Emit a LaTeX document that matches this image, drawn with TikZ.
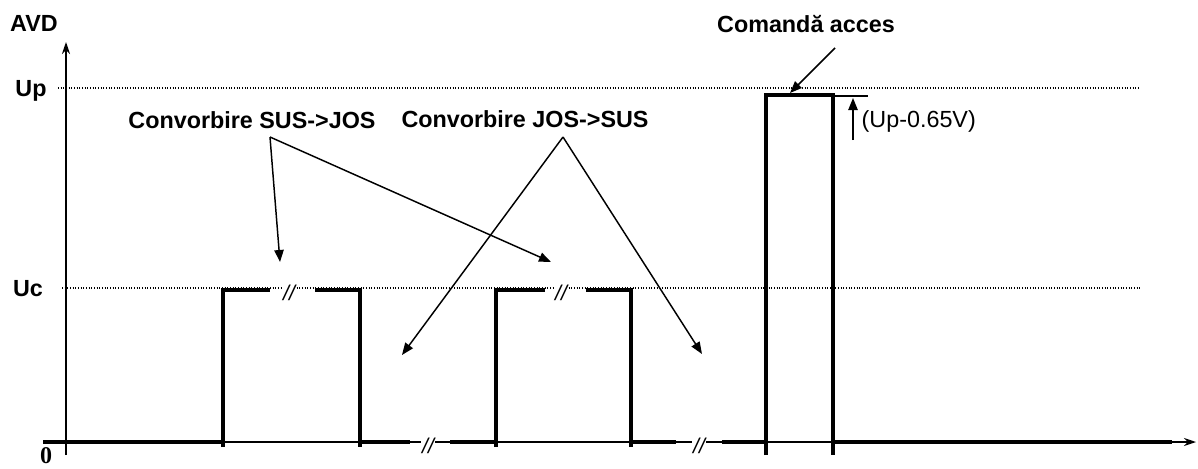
\documentclass[tikz,border=0pt]{standalone}
\usepackage{fontspec}
\setmainfont{Liberation Sans}
\newfontfamily\zerofont{Liberation Serif}
\usetikzlibrary{arrows.meta}
\begin{document}
\begin{tikzpicture}[x=0.75pt, y=-0.75pt,
  signal/.style={line width=3pt},
  axis/.style={line width=1.1pt, -{Stealth[length=9pt,width=6pt]}},
  level/.style={line width=0.8pt, dash pattern=on 0.8pt off 1.2pt},
  pointer/.style={line width=1.1pt, -{Triangle[length=9pt,width=7pt]}},
  title/.style={font=\fontsize{17.5}{20}\selectfont\bfseries},
  brk/.style={fill=white, inner sep=1pt, font=\fontsize{16}{18}\selectfont\itshape}]

  \useasboundingbox (0,0) rectangle (1198,468);

  % levels Up and Uc -- dotted guide lines
  \draw[level] (58,88) -- (1140,88);
  \draw[level] (62,288) -- (1140,288);

  % axes
  \coordinate (o) at (66,455);
  \coordinate (ytop) at (66,42);
  \coordinate (xleft) at (43,442);
  \coordinate (xright) at (1196,442);
  \draw[axis] (o) -- (ytop);
  \draw[axis] (xleft) -- (xright);

  % axis labels
  \node[title] (avd) at (34,23) {AVD};
  \node[title] (up) at (31,91) {Up};
  \node[title] (uc) at (28,289) {Uc};
  \node[font=\fontsize{18}{20}\selectfont\zerofont\bfseries, inner sep=0pt, anchor=north] (zero) at (46,447) {0};

  % breaks on the time axis and on the pulse tops
  \node[brk] (b1) at (289,293) {//};
  \node[brk] (b2) at (561,293) {//};
  \node[brk] (b3) at (428,446) {//};
  \node[brk] (b4) at (699,446) {//};

  % signal -- SUS->JOS call
  \draw[signal] (43,442) -- (223,442);
  \draw[signal] (223,447) -- (223,290) -- (270,290);
  \draw[signal] (315,290) -- (360,290) -- (360,447);
  \draw[signal] (360,442) -- (410,442);

  % signal -- JOS->SUS call
  \draw[signal] (450,442) -- (496,442);
  \draw[signal] (496,447) -- (496,290) -- (545,290);
  \draw[signal] (586,290) -- (631,290) -- (631,447);
  \draw[signal] (631,442) -- (676,442);

  % signal -- access command pulse
  \draw[signal] (722,442) -- (766,442);
  \draw[signal] (766,455) -- (766,95) -- (833,95) -- (833,455);
  \draw[signal] (833,442) -- (1172,442);

  % drop below Up
  \coordinate (dtop) at (868,96);
  \coordinate (dfoot) at (853,140);
  \draw[line width=1.1pt] (833,96) -- (dtop);
  \draw[pointer] (dfoot) -- (853,98);
  \node[font=\fontsize{17.5}{20}\selectfont, anchor=west] (drop) at (857,121) {(Up-0.65V)};

  % call labels and their pointers
  \node[title] (sus) at (252,120) {Convorbire SUS->JOS};
  \node[title] (jos) at (525,119) {Convorbire JOS->SUS};
  \node[title] (cmd) at (806,24) {Comandă acces};

  \coordinate (susapex) at (270,137);
  \coordinate (josapex) at (563,137);
  \coordinate (sus1) at (280,262);
  \coordinate (sus2) at (551,262);
  \coordinate (jos1) at (402,355);
  \coordinate (jos2) at (702,354);
  \coordinate (cmdfrom) at (835,48);
  \coordinate (cmdto) at (790,93);

  \draw[pointer] (susapex) -- (sus1);
  \draw[pointer] (susapex) -- (sus2);
  \draw[pointer] (josapex) -- (jos1);
  \draw[pointer] (josapex) -- (jos2);
  \draw[pointer] (cmdfrom) -- (cmdto);

\end{tikzpicture}
\end{document}
